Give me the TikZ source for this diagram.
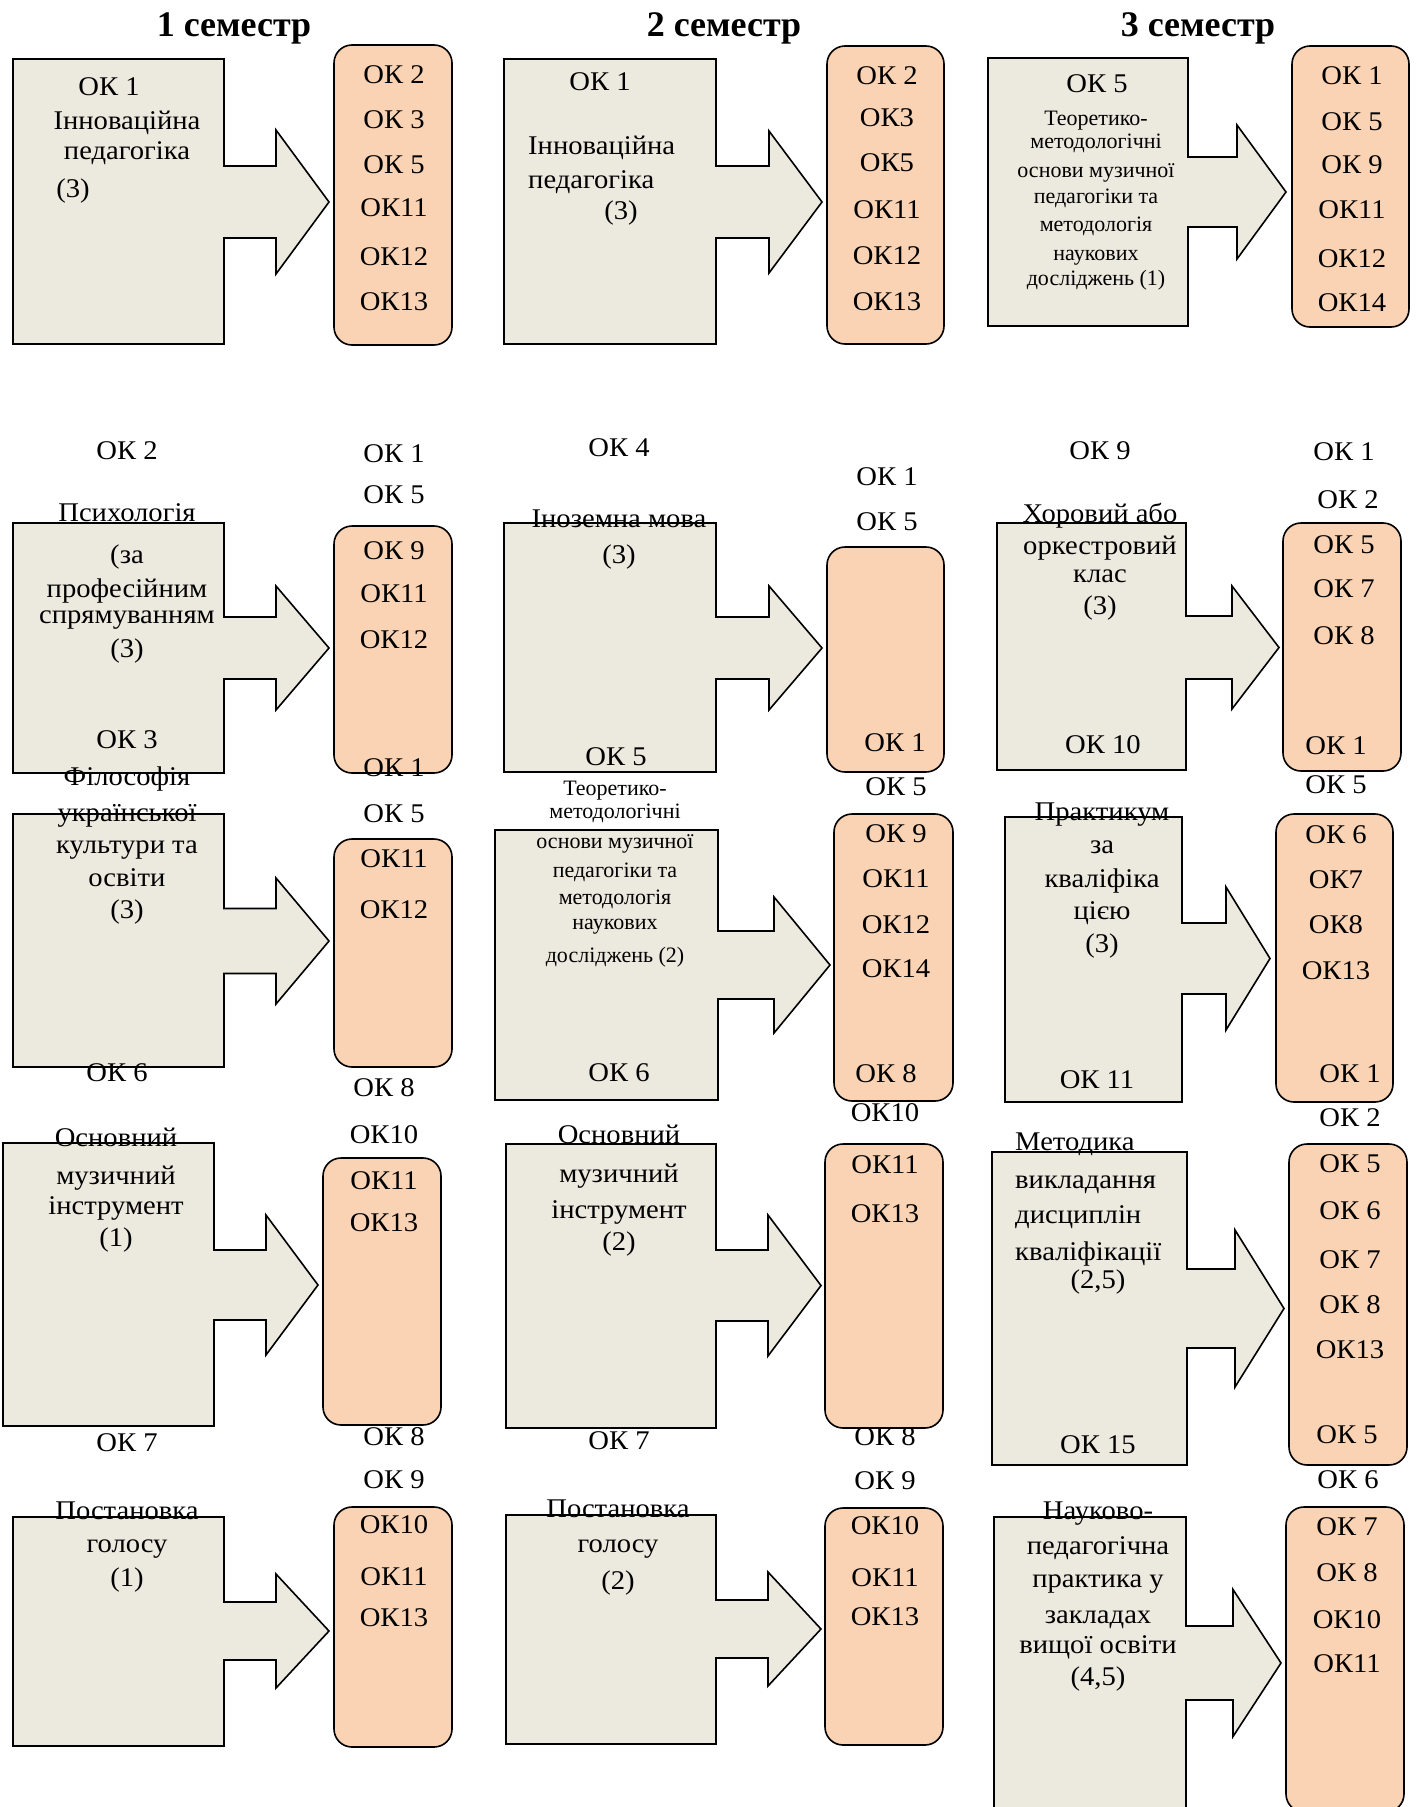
\documentclass[tikz,border=0pt]{standalone}
\usepackage{fontspec}
\setmainfont{Liberation Serif}
\newfontfamily\lblfont[FakeStretch=1.06]{Liberation Serif}
\definecolor{srcfill}{RGB}{236,233,223}
\definecolor{okfill}{RGB}{250,211,180}
\tikzset{
  srcbox/.style={draw=black, line width=1.6pt, fill=srcfill, line join=miter},
  okbox/.style={draw=black, line width=1.6pt, fill=okfill, rounded corners=18pt},
  lbl/.style={anchor=base, inner sep=0pt, font=\lblfont\fontsize{27}{30}\selectfont},
  lblsm/.style={anchor=base, inner sep=0pt, font=\fontsize{22}{24}\selectfont},
  sem/.style={anchor=base, inner sep=0pt, font=\bfseries\fontsize{36}{40}\selectfont}
}
% callout: x1, y1, x2, y2, middle y, half shaft, head x, half head, tip x
\newcommand{\srccallout}[9]{%
  \draw[srcbox] (#1,#2) -- (#3,#2) -- (#3,{#5-#6}) -- (#7,{#5-#6}) -- (#7,{#5-#8})
    -- (#9,#5) -- (#7,{#5+#8}) -- (#7,{#5+#6}) -- (#3,{#5+#6}) -- (#3,#4) -- (#1,#4) -- cycle;}
\begin{document}
\begin{tikzpicture}[x=1pt, y=-1pt, line join=round]
  \fill[white] (0,0) rectangle (1421,1807);
  \useasboundingbox (0,0) rectangle (1421,1807);
  \clip (0,0) rectangle (1421,1807);
  % --- Заголовки ---
  \node[sem] (s1) at (234,36) {1 семестр};
  \node[sem] (s2) at (724,36) {2 семестр};
  \node[sem] (s3) at (1198,36) {3 семестр};
  % --- Стрілки-виноски ---
  \srccallout{13}{59}{224}{344}{202}{36}{276}{72}{329}
  \srccallout{13}{523}{224}{773}{648}{31}{276}{62}{329}
  \srccallout{13}{814}{224}{1067}{941}{32.5}{276}{63}{329}
  \srccallout{3}{1143}{214}{1426}{1285}{35}{266}{70}{318}
  \srccallout{13}{1517}{224}{1746}{1631}{29}{276}{57}{329}
  \srccallout{504}{59}{716}{344}{202}{36}{769}{71}{822}
  \srccallout{504}{523}{716}{772}{648}{31}{769}{62}{822}
  \srccallout{495}{830}{718}{1100}{965}{34}{774}{68}{830}
  \srccallout{506}{1144}{716}{1428}{1285.5}{35.5}{768}{70.5}{821}
  \srccallout{506}{1515}{716}{1744}{1629}{29}{768}{57}{821}
  \srccallout{988}{58}{1188}{326}{192}{35}{1237}{67}{1286}
  \srccallout{997}{523}{1186}{770}{647.5}{31.5}{1232}{61.5}{1279}
  \srccallout{1005}{817}{1182}{1102}{958.5}{35.5}{1226}{71.5}{1270}
  \srccallout{992}{1152}{1187}{1465}{1308.5}{39.5}{1235}{78.5}{1284}
  \srccallout{994}{1517}{1186}{1830}{1663}{37}{1233}{73.5}{1281}
  % --- Рамки компетентностей ---
  \draw[okbox] (334,45) rectangle (452,345);
  \draw[okbox] (334,526) rectangle (452,773);
  \draw[okbox] (334,839) rectangle (452,1067);
  \draw[okbox] (323,1158) rectangle (441,1425);
  \draw[okbox] (334,1507) rectangle (452,1747);
  \draw[okbox] (827,46) rectangle (944,344);
  \draw[okbox] (827,547) rectangle (944,772);
  \draw[okbox] (834,814) rectangle (953,1101);
  \draw[okbox] (825,1144) rectangle (943,1428);
  \draw[okbox] (825,1508) rectangle (943,1745);
  \draw[okbox] (1292,46) rectangle (1409,327);
  \draw[okbox] (1283,523) rectangle (1401,771);
  \draw[okbox] (1276,814) rectangle (1393,1102);
  \draw[okbox] (1289,1144) rectangle (1407,1465);
  \draw[okbox] (1286,1507) rectangle (1404,1812);
  % --- 1 семестр ---
  \node[lbl] (a1) at (109,95) {ОК 1};
  \node[lbl] (a2) at (127,129) {Інноваційна};
  \node[lbl] (a3) at (127,159) {педагогіка};
  \node[lbl] (a4) at (73,197) {(3)};
  \foreach \y/\t in {83/ОК 2, 128/ОК 3, 173/ОК 5, 216/ОК11, 265/ОК12, 310/ОК13}
    \node[lbl] (ar-\y) at (394,\y) {\t};
  \foreach \y/\t in {459/ОК 2, 521/Психологія, 563/(за, 597/професійним, 623/спрямуванням, 657/(3), 748/ОК 3, 785/Філософія}
    \node[lbl] (b-\y) at (127,\y) {\t};
  \foreach \y/\t in {462/ОК 1, 503/ОК 5, 559/ОК 9, 602/ОК11, 648/ОК12, 776/ОК 1}
    \node[lbl] (br-\y) at (394,\y) {\t};
  \foreach \y/\t in {821/української, 853/культури та, 886/освіти, 918/(3)}
    \node[lbl] (c-\y) at (127,\y) {\t};
  \node[lbl] (c6) at (117,1081) {ОК 6};
  \foreach \y/\t in {822/ОК 5, 867/ОК11, 918/ОК12}
    \node[lbl] (cr-\y) at (394,\y) {\t};
  \node[lbl] (cr8) at (384,1096) {ОК 8};
  \foreach \y/\t in {1146/Основний, 1184/музичний, 1214/інструмент, 1246/(1)}
    \node[lbl] (d-\y) at (116,\y) {\t};
  \node[lbl] (d7) at (127,1451) {ОК 7};
  \foreach \y/\t in {1143/ОК10, 1189/ОК11, 1231/ОК13}
    \node[lbl] (dr-\y) at (384,\y) {\t};
  \node[lbl] (dr8) at (394,1445) {ОК 8};
  \foreach \y/\t in {1519/Постановка, 1552/голосу, 1586/(1)}
    \node[lbl] (e-\y) at (127,\y) {\t};
  \foreach \y/\t in {1488/ОК 9, 1533/ОК10, 1585/ОК11, 1626/ОК13}
    \node[lbl] (er-\y) at (394,\y) {\t};
  % --- 2 семестр ---
  \node[lbl] (f1) at (600,90) {ОК 1};
  \node[lbl, anchor=base west] (f2) at (528,154) {Інноваційна};
  \node[lbl, anchor=base west] (f3) at (528,188) {педагогіка};
  \node[lbl] (f4) at (621,219) {(3)};
  \foreach \y/\t in {84/ОК 2, 126/ОК3, 171/ОК5, 218/ОК11, 264/ОК12, 310/ОК13}
    \node[lbl] (fr-\y) at (887,\y) {\t};
  \foreach \y/\t in {456/ОК 4, 527/Іноземна мова, 563/(3)}
    \node[lbl] (g-\y) at (619,\y) {\t};
  \node[lbl] (g5) at (616,765) {ОК 5};
  \node[lbl] (gr1) at (887,485) {ОК 1};
  \node[lbl] (gr2) at (887,530) {ОК 5};
  \node[lbl] (gr3) at (895,751) {ОК 1};
  \node[lbl] (gr4) at (896,795) {ОК 5};
  \foreach \y/\t in {795/Теоретико-, 818/методологічні, 848/основи музичної, 877/педагогіки та, 904/методологія, 929/наукових, 962/досліджень (2)}
    \node[lblsm] (h-\y) at (615,\y) {\t};
  \node[lbl] (h6) at (619,1081) {ОК 6};
  \foreach \y/\t in {842/ОК 9, 887/ОК11, 933/ОК12, 977/ОК14}
    \node[lbl] (hr-\y) at (896,\y) {\t};
  \node[lbl] (hr8) at (886,1082) {ОК 8};
  \node[lbl] (hr10) at (885,1121) {ОК10};
  \foreach \y/\t in {1143/Основний, 1182/музичний, 1218/інструмент, 1250/(2), 1449/ОК 7}
    \node[lbl] (i-\y) at (619,\y) {\t};
  \foreach \y/\t in {1173/ОК11, 1222/ОК13, 1445/ОК 8, 1489/ОК 9}
    \node[lbl] (ir-\y) at (885,\y) {\t};
  \foreach \y/\t in {1517/Постановка, 1552/голосу, 1589/(2)}
    \node[lbl] (j-\y) at (618,\y) {\t};
  \foreach \y/\t in {1534/ОК10, 1586/ОК11, 1625/ОК13}
    \node[lbl] (jr-\y) at (885,\y) {\t};
  % --- 3 семестр ---
  \node[lbl] (k5) at (1097,92) {ОК 5};
  \foreach \y/\t in {125/Теоретико-, 148/методологічні, 177/основи музичної, 203/педагогіки та, 231/методологія, 260/наукових, 285/досліджень (1)}
    \node[lblsm] (k-\y) at (1096,\y) {\t};
  \foreach \y/\t in {84/ОК 1, 130/ОК 5, 173/ОК 9, 218/ОК11, 267/ОК12, 311/ОК14}
    \node[lbl] (kr-\y) at (1352,\y) {\t};
  \foreach \y/\t in {459/ОК 9, 522/Хоровий або, 554/оркестровий, 582/клас, 614/(3)}
    \node[lbl] (l-\y) at (1100,\y) {\t};
  \node[lbl] (l10) at (1103,753) {ОК 10};
  \foreach \y/\t in {460/ОК 1, 553/ОК 5, 597/ОК 7, 644/ОК 8}
    \node[lbl] (lr-\y) at (1344,\y) {\t};
  \node[lbl] (lr2) at (1348,508) {ОК 2};
  \node[lbl] (lr1) at (1336,754) {ОК 1};
  \node[lbl] (lr5) at (1336,793) {ОК 5};
  \foreach \y/\t in {820/Практикум, 853/за, 887/кваліфіка, 919/цією, 952/(3)}
    \node[lbl] (m-\y) at (1102,\y) {\t};
  \node[lbl] (m11) at (1097,1088) {ОК 11};
  \foreach \y/\t in {843/ОК 6, 888/ОК7, 933/ОК8, 979/ОК13}
    \node[lbl] (mr-\y) at (1336,\y) {\t};
  \node[lbl] (mr1) at (1350,1082) {ОК 1};
  \node[lbl] (mr2) at (1350,1126) {ОК 2};
  \foreach \y/\t in {1150/Методика, 1188/викладання, 1223/дисциплін, 1260/кваліфікації}
    \node[lbl, anchor=base west] (n-\y) at (1015,\y) {\t};
  \node[lbl] (n5) at (1098,1288) {(2,5)};
  \node[lbl] (n15) at (1098,1453) {ОК 15};
  \foreach \y/\t in {1172/ОК 5, 1219/ОК 6, 1268/ОК 7, 1313/ОК 8, 1358/ОК13}
    \node[lbl] (nr-\y) at (1350,\y) {\t};
  \node[lbl] (nr5) at (1347,1443) {ОК 5};
  \node[lbl] (nr6) at (1348,1488) {ОК 6};
  \foreach \y/\t in {1519/Науково-, 1554/педагогічна, 1587/практика у, 1623/закладах, 1653/вищої освіти, 1685/{(4,5)}}
    \node[lbl] (o-\y) at (1098,\y) {\t};
  \foreach \y/\t in {1535/ОК 7, 1581/ОК 8, 1628/ОК10, 1672/ОК11}
    \node[lbl] (or-\y) at (1347,\y) {\t};
\end{tikzpicture}
\end{document}
